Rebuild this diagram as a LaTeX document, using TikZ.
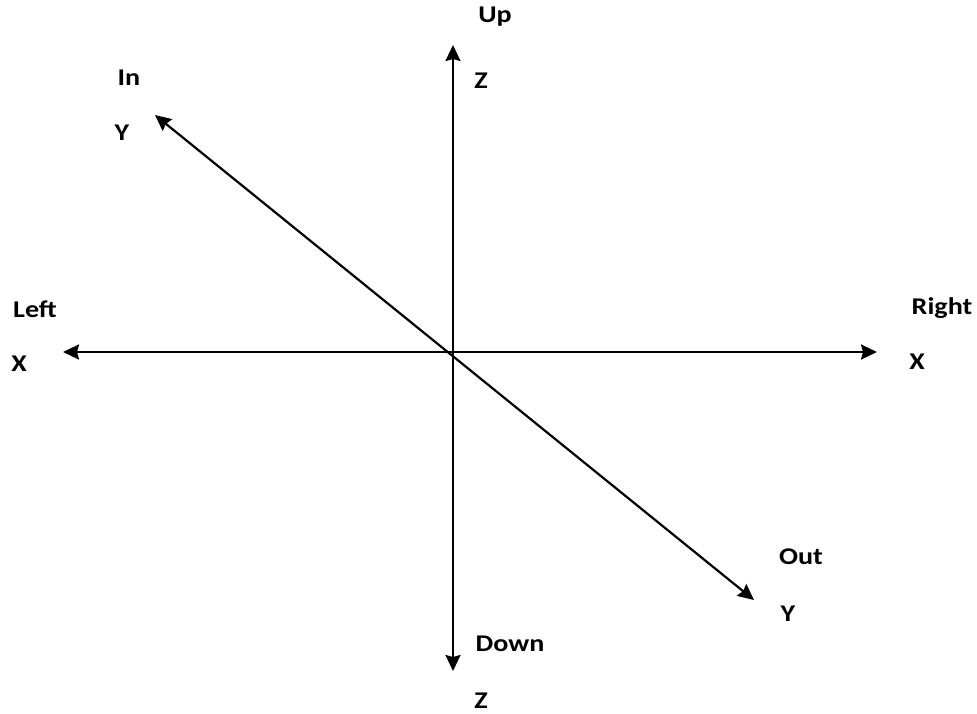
\documentclass[tikz,border=0pt]{standalone}
\usepackage{fontspec}
\setmainfont{Carlito}
\usetikzlibrary{arrows.meta}
\newcommand{\widetxt}[1]{\scalebox{1.17}[1]{#1}}
\begin{document}
\begin{tikzpicture}[x=1pt,y=-1pt,
  tip/.tip={Stealth[length=16pt,width=15pt,inset=2pt]},
  axis/.style={line width=2.2pt,tip-tip},
  lbl/.style={font=\bfseries\fontsize{24}{28}\selectfont,inner sep=0pt}]
\useasboundingbox (0,0) rectangle (977,713);
\coordinate (up) at (453,45);
\coordinate (down) at (453,671);
\coordinate (left) at (63,352);
\coordinate (right) at (877,352);
\coordinate (in) at (155,115);
\coordinate (out) at (754,600);
\draw[axis] (down) -- (up);
\draw[axis] (left) -- (right);
\draw[axis] (in) -- (out);
\node[lbl] (tup) at (495,17) {\widetxt{Up}};
\node[lbl] (tz1) at (481,81) {\widetxt{Z}};
\node[lbl] (tin) at (129,78) {\widetxt{In}};
\node[lbl] (ty1) at (122,133) {\widetxt{Y}};
\node[lbl] (tleft) at (35,309) {\widetxt{Left}};
\node[lbl] (tx1) at (19,364) {\widetxt{X}};
\node[lbl] (tright) at (942,308) {\widetxt{Right}};
\node[lbl] (tx2) at (917,362) {\widetxt{X}};
\node[lbl] (tout) at (801,557) {\widetxt{Out}};
\node[lbl] (ty2) at (788,614) {\widetxt{Y}};
\node[lbl] (tdown) at (510,644) {\widetxt{Down}};
\node[lbl] (tz2) at (481,701) {\widetxt{Z}};
\end{tikzpicture}
\end{document}
